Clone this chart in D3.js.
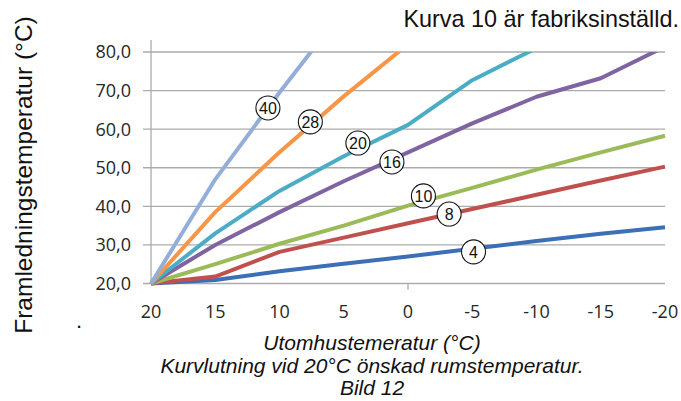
<!DOCTYPE html>
<html>
<head>
<meta charset="utf-8">
<script src="https://cdn.jsdelivr.net/npm/d3@7"></script>
<style>
  html, body { margin: 0; padding: 0; background: #fff; }
  svg { display: block; }
</style>
</head>
<body>
<svg id="chart" width="681" height="401"></svg>
<script>
// ---- data ----
const categories = [20, 15, 10, 5, 0, -5, -10, -15, -20];
const xTickLabels = ["20", "15", "10", "5", "0", "-5", "-10", "-15", "-20"];
const yTicks = [20, 30, 40, 50, 60, 70, 80];
const yTickLabels = ["20,0", "30,0", "40,0", "50,0", "60,0", "70,0", "80,0"];

const seriesNames = ["4", "8", "10", "16", "20", "28", "40"];
const curve4  = [20, 20.9, 23.2, 25.1, 27.0, 29.0, 31.0, 32.9, 34.6];
const curve8  = [20, 21.8, 28.2, 31.9, 35.6, 39.3, 43.0, 46.7, 50.3];
const curve10 = [20, 25.0, 30.3, 35.0, 40.2, 44.8, 49.5, 54.0, 58.3];
const curve16 = [20, 30.0, 38.5, 46.5, 54.0, 61.5, 68.4, 73.2, 81.4];
const curve20 = [20, 33.0, 44.0, 53.0, 61.1, 72.7, 81.0];
const curve28 = [20, 38.5, 54.0, 68.5, 82.0];
const curve40 = [20, 47.0, 69.5, 91.0];
const seriesValues = [curve4, curve8, curve10, curve16, curve20, curve28, curve40];
const seriesColors = ["#3d6fb6", "#c0504d", "#9bbb59", "#8064a2", "#4bacc6", "#f79646", "#93aed8"];

// label bubbles: [name, outdoor temp, flow temp]
const labelNames = ["40", "28", "20", "16", "10", "8", "4"];
const labelX = [10.9, 7.6, 3.9, 1.25, -1.2, -3.2, -5.1];
const labelY = [65.5, 61.9, 56.4, 51.5, 42.7, 38.0, 28.2];

const topNote = "Kurva 10 är fabriksinställd.";
const yTitle = "Framledningstemperatur (°C)";
const xTitleLines = ["Utomhustemeratur (°C)", "Kurvlutning vid 20°C önskad rumstemperatur.", "Bild 12"];

// ---- drawing ----
const svg = d3.select("#chart");
const L = 151, R = 665, T = 52, B = 283.5;

const x = d3.scaleLinear().domain([20, -20]).range([L, R]);
const y = d3.scaleLinear().domain([20, 80]).range([B, T]);

const arial = "'Liberation Sans', Arial, sans-serif";
const tickFont = "'Open Sans', 'Noto Sans', sans-serif";

// gridlines
svg.append("g").selectAll("line").data(yTicks).join("line")
  .attr("x1", L - 8).attr("x2", R)
  .attr("y1", d => y(d)).attr("y2", d => y(d))
  .attr("stroke", "#ababab").attr("stroke-width", 1.3);

// vertical axis line
svg.append("line").attr("x1", L).attr("x2", L).attr("y1", 40).attr("y2", B)
  .attr("stroke", "#ababab").attr("stroke-width", 1.3);

// single tick at 0 on x axis
svg.append("line").attr("x1", x(0)).attr("x2", x(0)).attr("y1", B).attr("y2", B + 6)
  .attr("stroke", "#ababab").attr("stroke-width", 1.3);

// y tick labels
svg.append("g").selectAll("text").data(yTicks).join("text")
  .attr("x", 131).attr("y", d => y(d)).attr("dy", "0.36em")
  .attr("text-anchor", "end")
  .attr("font-family", tickFont).attr("font-size", 18).attr("fill", "#262626")
  .text((d, i) => yTickLabels[i]);

// x tick labels
svg.append("g").selectAll("text").data(categories).join("text")
  .attr("x", d => x(d)).attr("y", 312).attr("dy", "0.36em")
  .attr("text-anchor", "middle")
  .attr("font-family", tickFont).attr("font-size", 18).attr("fill", "#262626")
  .text((d, i) => xTickLabels[i]);

// clip
svg.append("clipPath").attr("id", "plotclip")
  .append("rect").attr("x", L - 10).attr("y", T).attr("width", R - L + 20).attr("height", B - T + 10);

const line = d3.line().x(d => x(d[0])).y(d => y(d[1]));
svg.append("g").attr("clip-path", "url(#plotclip)")
  .selectAll("path").data(seriesValues).join("path")
  .attr("d", vals => line(vals.map((v, i) => [categories[i], v])))
  .attr("fill", "none")
  .attr("stroke", (d, i) => seriesColors[i])
  .attr("stroke-width", 4)
  .attr("stroke-linejoin", "round")
  .attr("stroke-linecap", "butt");

// label bubbles
const lab = svg.append("g").selectAll("g").data(labelNames).join("g")
  .attr("transform", (d, i) => `translate(${x(labelX[i])},${y(labelY[i])})`);
lab.append("circle").attr("r", 12).attr("fill", "#fff").attr("stroke", "#111").attr("stroke-width", 1.1);
lab.append("text").attr("text-anchor", "middle").attr("dy", "0.36em")
  .attr("font-family", arial).attr("font-size", 16).attr("fill", "#111")
  .text(d => d);

// top note
svg.append("text").attr("x", 679).attr("y", 27).attr("text-anchor", "end")
  .attr("font-family", arial).attr("font-size", 23.4).attr("fill", "#111")
  .text(topNote);

// y title
svg.append("text").attr("transform", "translate(32,175) rotate(-90)")
  .attr("text-anchor", "middle")
  .attr("font-family", arial).attr("font-size", 24.5).attr("fill", "#111")
  .text(yTitle);

// stray dot
svg.append("text").attr("x", 76).attr("y", 328)
  .attr("font-family", arial).attr("font-size", 22).attr("fill", "#111").text(".");

// x titles
svg.append("g").selectAll("text").data(xTitleLines).join("text")
  .attr("x", 372).attr("y", (d, i) => 350 + i * 22.5)
  .attr("text-anchor", "middle")
  .attr("font-family", arial).attr("font-style", "italic").attr("font-size", 21).attr("fill", "#111")
  .text(d => d);
</script>
</body>
</html>
